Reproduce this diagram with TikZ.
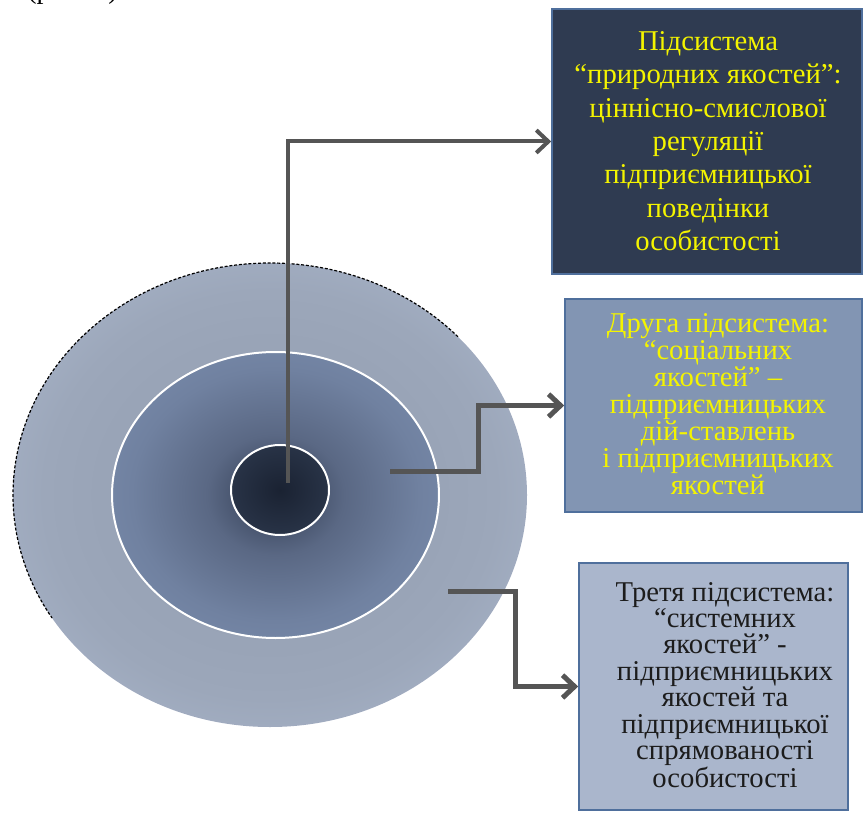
\documentclass[tikz,border=0pt]{standalone}
\usepackage{fontspec}
\setmainfont{Liberation Serif}
\usetikzlibrary{arrows.meta}
\definecolor{oA}{HTML}{909BAE}
\definecolor{oB}{HTML}{9CA7BA}
\definecolor{oC}{HTML}{ADBAD0}
\definecolor{mA}{HTML}{2F3A50}
\definecolor{mB}{HTML}{5A6884}
\definecolor{mC}{HTML}{7081A0}
\definecolor{mD}{HTML}{7C8FB0}
\definecolor{iA}{HTML}{1A2232}
\definecolor{iB}{HTML}{2E3A4F}
\definecolor{boxA}{HTML}{2F3B51}
\definecolor{boxB}{HTML}{8295B3}
\definecolor{boxC}{HTML}{AAB6CC}
\definecolor{boxline}{HTML}{4F6F9C}
\definecolor{txtyellow}{HTML}{F4F400}
\definecolor{txtdark}{HTML}{1C1C1C}
\definecolor{arrowgray}{HTML}{555555}
\pgfdeclareradialshading{outerS}{\pgfpointorigin}{color(0bp)=(oA); color(22bp)=(oB); color(35bp)=(oC); color(50bp)=(oC)}
\pgfdeclareradialshading{midS}{\pgfpointorigin}{color(0bp)=(mA); color(10.5bp)=(mB); color(22bp)=(mC); color(35bp)=(mD); color(50bp)=(mD)}
\pgfdeclareradialshading{innerS}{\pgfpointorigin}{color(0bp)=(iA); color(35bp)=(iB); color(50bp)=(iB)}
\tikzset{
  boxnode/.style={rectangle, draw=boxline, line width=1.2pt, inner sep=0pt},
  boxtext/.style={align=center, inner sep=0pt},
  conn/.style={draw=arrowgray, line width=3.75pt, line join=miter, -{Straight Barb[length=9pt,width=17pt]}},
  ring/.style={draw=white, line width=1.5pt}
}
\begin{document}
\begin{tikzpicture}[x=0.75pt,y=-0.75pt]
\useasboundingbox (0,0) rectangle (864,813);
% fragment of caption text above (cut by the top edge)
\node[anchor=base west, inner sep=0pt, font=\fontsize{21pt}{24pt}\selectfont] (cap) at (27,-1) {(рис. 1).};
% concentric shapes
\coordinate (co) at (270,495);
\coordinate (cm) at (275.5,495);
\coordinate (ci) at (280,490);
\shade[shading=outerS] (co) ellipse [x radius=192.75pt, y radius=174pt];
\draw[black, line width=0.9pt, dash pattern=on 2.2pt off 1.4pt] (co) ++(43:192.75pt and 174pt) arc[start angle=43, end angle=212, x radius=192.75pt, y radius=174pt];
\shade[shading=midS, ring] (cm) ellipse [x radius=122.6pt, y radius=107.25pt];
\shade[shading=innerS, ring] (ci) ellipse [x radius=36.75pt, y radius=33.75pt];
% boxes
\node[boxnode, fill=boxA, minimum width=232.5pt, minimum height=198.75pt] (b1) at (707,141.5) {};
\node[boxnode, fill=boxB, minimum width=222.75pt, minimum height=159.75pt] (b2) at (713.5,405.5) {};
\node[boxnode, fill=boxC, minimum width=201.75pt, minimum height=185.25pt] (b3) at (713.5,686.5) {};
% texts
\node[boxtext, text=txtyellow, font=\fontsize{21.5pt}{25pt}\selectfont] (t1) at (708,141) {Підсистема\\“природних якостей”:\\ціннісно-смислової\\регуляції\\підприємницької\\поведінки\\особистості};
\node[boxtext, text=txtyellow, font=\fontsize{21.5pt}{20.25pt}\selectfont] (t2) at (718,404) {Друга підсистема:\\“соціальних\\якостей” –\\підприємницьких\\дій-ставлень\\і підприємницьких\\якостей};
\node[boxtext, text=txtdark, font=\fontsize{21.5pt}{19.8pt}\selectfont] (t3) at (725,685) {Третя підсистема:\\“системних\\якостей” -\\підприємницьких\\якостей та\\підприємницької\\спрямованості\\особистості};
% connectors
\coordinate (s1) at (288,483);
\coordinate (s2) at (390,471);
\coordinate (s3) at (448,591);
\draw[conn, line width=3pt] (s1) |- (b1.west);
\draw[conn] (s2) -- ++(88,0) |- (b2.west);
\draw[conn] (s3) -- ++(67,0) |- (b3.west);
\end{tikzpicture}
\end{document}
